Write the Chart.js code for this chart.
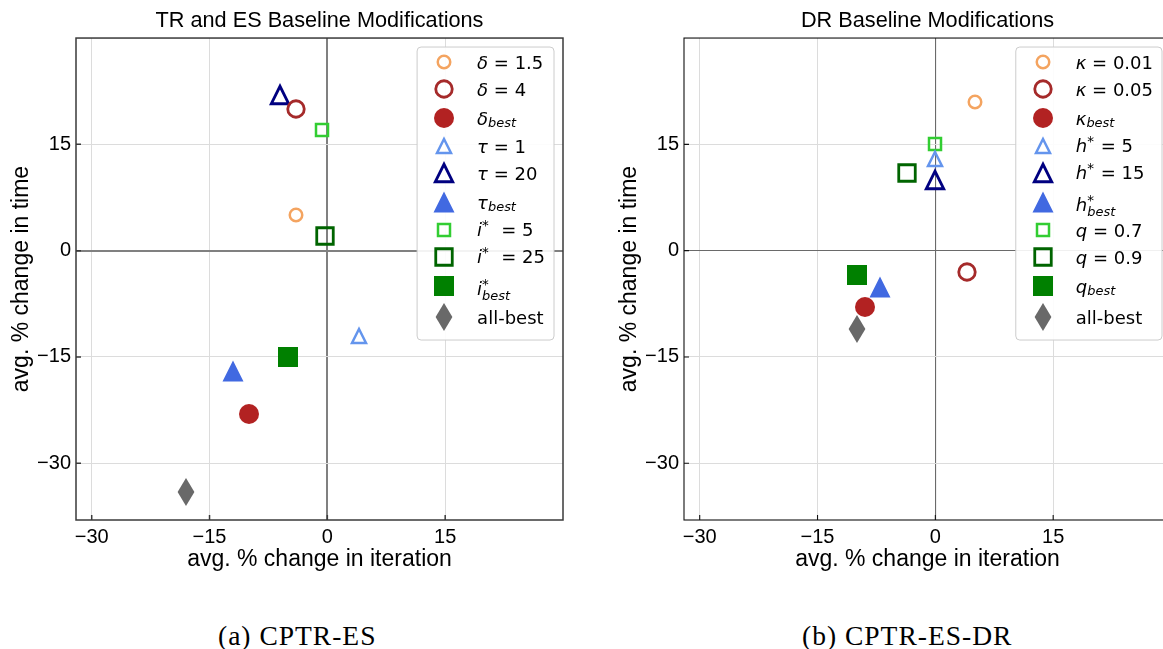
<!DOCTYPE html>
<html>
<head>
<meta charset="utf-8">
<script src="https://cdn.jsdelivr.net/npm/chart.js@4.4.0/dist/chart.umd.min.js"></script>
<style>
  html, body { margin: 0; padding: 0; background: #fff; width: 1163px; height: 649px; overflow: hidden; }
  .panel { position: absolute; top: 0; width: 590px; height: 600px; }
  .caption { position: absolute; top: 622px; font-family: "Liberation Serif", serif; font-size: 27.5px; line-height: 1; color: #000; white-space: nowrap; letter-spacing: 1px; }
</style>
</head>
<body>
<div class="panel" style="left:0"><canvas id="chartA" width="590" height="600"></canvas></div>
<div class="panel" style="left:608px"><canvas id="chartB" width="590" height="600"></canvas></div>
<div class="caption" style="left:218px">(a) CPTR-ES</div>
<div class="caption" style="left:802px">(b) CPTR-ES-DR</div>

<script>
// axes
const tickValues = [-30, -15, 0, 15];
const xLimits = [-32, 30];
const yLimits = [-38, 30];
const xTitle = 'avg. % change in iteration';
const yTitle = 'avg. % change in time';

// panel (a)
const titleA = 'TR and ES Baseline Modifications';
const labelsA = [
  [['δ', 'i'], [' = 1.5', 'n']],
  [['δ', 'i'], [' = 4', 'n']],
  [['δ', 'i'], ['best', 'sub']],
  [['τ', 'i'], [' = 1', 'n']],
  [['τ', 'i'], [' = 20', 'n']],
  [['τ', 'i'], ['best', 'sub']],
  [['i', 'i'], ['*', 'sup'], ['  = 5', 'n']],
  [['i', 'i'], ['*', 'sup'], ['  = 25', 'n']],
  [['i', 'i'], ['*', 'sup0'], ['best', 'sub']],
  [['all-best', 'n']]
];
const xA = [-4, -4, -10, 4, -6, -12, -0.7, -0.3, -5, -18];
const yA = [5, 20, -23, -12, 22, -17, 17, 2, -15, -34];

// panel (b)
const titleB = 'DR Baseline Modifications';
const labelsB = [
  [['κ', 'i'], [' = 0.01', 'n']],
  [['κ', 'i'], [' = 0.05', 'n']],
  [['κ', 'i'], ['best', 'sub']],
  [['h', 'i'], ['*', 'sup'], [' = 5', 'n']],
  [['h', 'i'], ['*', 'sup'], [' = 15', 'n']],
  [['h', 'i'], ['*', 'sup0'], ['best', 'sub']],
  [['q', 'i'], [' = 0.7', 'n']],
  [['q', 'i'], [' = 0.9', 'n']],
  [['q', 'i'], ['best', 'sub']],
  [['all-best', 'n']]
];
const xB = [5, 4, -9, 0, 0, -7, -0.1, -3.6, -10, -10];
const yB = [21, -3, -8, 13, 10, -5.1, 15, 11, -3.5, -11];

// marker look, same order in both panels: shape, size, colour, open, line width
const markerSpecs = [
  ['circle', 12.5, '#f4a460', true, 2.5],
  ['circle', 16.5, '#a52a2a', true, 2.8],
  ['circle', 20, '#b22222', false, 0],
  ['triangle', 14, '#6495ed', true, 2.5],
  ['triangle', 17.5, '#000080', true, 2.8],
  ['triangle', 21, '#4169e1', false, 0],
  ['square', 12, '#32cd32', true, 2.5],
  ['square', 16.5, '#006400', true, 2.8],
  ['square', 20, '#008000', false, 0],
  ['diamond', 28, '#696969', false, 0]
];

function makeMarker([shape, size, color, open, lw]) {
  const w = shape === 'diamond' ? size * 0.6 : size;
  const h = size;
  const c = document.createElement('canvas');
  // even sizes so the image lands on whole pixels
  c.width = 2 * Math.ceil((w + lw + 4) / 2);
  c.height = 2 * Math.ceil((h + lw + 4) / 2);
  const g = c.getContext('2d');
  const cx = c.width / 2, cy = c.height / 2;
  g.beginPath();
  if (shape === 'circle') {
    g.arc(cx, cy, size / 2, 0, Math.PI * 2);
  } else if (shape === 'triangle') {
    g.moveTo(cx, cy - h / 2);
    g.lineTo(cx + w / 2, cy + h / 2);
    g.lineTo(cx - w / 2, cy + h / 2);
    g.closePath();
  } else if (shape === 'square') {
    g.rect(cx - w / 2, cy - h / 2, w, h);
  } else {
    g.moveTo(cx, cy - h / 2);
    g.lineTo(cx + w / 2, cy);
    g.lineTo(cx, cy + h / 2);
    g.lineTo(cx - w / 2, cy);
    g.closePath();
  }
  if (open) {
    g.lineWidth = lw;
    g.strokeStyle = color;
    g.stroke();
  } else {
    g.fillStyle = color;
    g.fill();
  }
  return c;
}
const markers = markerSpecs.map(makeMarker);

const fmt = v => (v < 0 ? '\u2212' + Math.abs(v) : String(v));

// legend text with italic symbols, sub- and superscripts
function drawParts(ctx, parts, x, y, size, draw) {
  let cx = x;
  const hasSupSub = parts.some(p => p[1] === 'sup0');
  for (const [text, kind] of parts) {
    let fs = size, dy = 0, style = '', advance = true;
    if (kind === 'i') style = 'italic ';
    if (kind === 'sub') { style = 'italic '; fs = size * 0.72; dy = hasSupSub ? 4.5 : 2; }
    if (kind === 'sup' || kind === 'sup0') { fs = size * 0.75; dy = -6; advance = kind === 'sup'; }
    ctx.font = style + fs + 'px "DejaVu Sans"';
    if (draw) ctx.fillText(text, cx, y + dy);
    if (advance) cx += ctx.measureText(text).width + (kind === 'sup' ? 1 : 0);
  }
  return cx - x;
}

const crispPoints = {
  id: 'crispPoints',
  beforeDatasetsDraw(chart) { chart.ctx.imageSmoothingEnabled = false; },
  afterDatasetsDraw(chart) { chart.ctx.imageSmoothingEnabled = true; }
};

const insideLegend = {
  id: 'insideLegend',
  afterDraw(chart, args, o) {
    const {ctx, chartArea: a} = chart;
    const sets = chart.data.datasets;
    const size = 18;
    ctx.save();
    let maxW = 0;
    sets.forEach(ds => { maxW = Math.max(maxW, drawParts(ctx, ds.labelParts, 0, 0, size, false)); });
    const heights = sets.map(ds => {
      if (ds.markerShape === 'diamond') return 33;
      return ds.labelParts.some(p => p[1] === 'sub') ? 30 : 27;
    });
    const boxW = o.textX + maxW + 9;
    const boxH = heights.reduce((s, h) => s + h, 0) + 8;
    const left = a.right - o.pad - boxW;
    const top = a.top + o.pad;
    ctx.beginPath();
    ctx.roundRect(left, top, boxW, boxH, 4);
    ctx.fillStyle = 'rgba(255,255,255,0.9)';
    ctx.fill();
    ctx.strokeStyle = '#cccccc';
    ctx.lineWidth = 1;
    ctx.stroke();
    let y = top + 1.5;
    sets.forEach((ds, i) => {
      const cy = y + heights[i] / 2;
      const m = ds.pointStyle;
      ctx.drawImage(m, Math.round(left + o.markX - m.width / 2), Math.round(cy - m.height / 2));
      ctx.fillStyle = '#000';
      ctx.textBaseline = 'alphabetic';
      const parts = ds.labelParts;
      let base = 6.5;
      if (parts.some(p => p[1] === 'sup0')) base = 9.5;
      else if (parts.some(p => p[1] === 'sub')) base = 7.5;
      else if (parts.some(p => p[1] === 'sup')) base = 5.5;
      drawParts(ctx, parts, left + o.textX, cy + base, size, true);
      y += heights[i];
    });
    ctx.restore();
  }
};

const frame = {
  id: 'frame',
  afterDraw(chart, args, o) {
    const {ctx, chartArea: a, scales} = chart;
    ctx.save();
    ctx.strokeStyle = o.color;
    ctx.lineWidth = o.width;
    ctx.strokeRect(a.left, a.top, a.right - a.left, a.bottom - a.top);
    ctx.beginPath();
    scales.x.ticks.forEach(t => {
      const px = scales.x.getPixelForValue(t.value);
      ctx.moveTo(px, a.bottom);
      ctx.lineTo(px, a.bottom - 5);
    });
    scales.y.ticks.forEach(t => {
      const py = scales.y.getPixelForValue(t.value);
      ctx.moveTo(a.left, py);
      ctx.lineTo(a.left + 5, py);
    });
    ctx.stroke();
    ctx.restore();
  }
};

function axis(limits, title, isX, look) {
  const ax = {
    type: 'linear',
    min: limits[0],
    max: limits[1],
    afterBuildTicks: s => { s.ticks = tickValues.map(v => ({value: v})); },
    grid: {
      drawTicks: false,
      color: c => (c.tick && c.tick.value === 0 ? look.zero : '#dcdcdc'),
      lineWidth: c => (c.tick && c.tick.value === 0 ? look.zeroWidth : 1)
    },
    border: {display: false},
    ticks: {
      callback: fmt,
      color: '#000',
      font: {family: 'Liberation Sans', size: 20},
      padding: 5
    },
    title: {
      display: true,
      text: title,
      color: '#000',
      font: {family: 'Liberation Sans', size: 23},
      padding: isX ? {top: 0, bottom: 27} : {top: 8, bottom: 0}
    }
  };
  if (isX) ax.afterFit = s => { s.height = 80; };
  else ax.afterFit = s => { s.width = 76; };
  return ax;
}

function buildChart(id, title, labels, xs, ys, look) {
  return new Chart(document.getElementById(id), {
    type: 'scatter',
    data: {
      datasets: labels.map((parts, i) => ({
        label: parts.map(p => p[0]).join(''),
        labelParts: parts,
        markerShape: markerSpecs[i][0],
        data: [{x: xs[i], y: ys[i]}],
        pointStyle: markers[i],
        pointRadius: 10,
        pointHoverRadius: 10
      }))
    },
    options: {
      responsive: false,
      animation: false,
      events: [],
      layout: {padding: {left: 0, right: 27, top: 0, bottom: 0}},
      plugins: {
        legend: {display: false},
        tooltip: {enabled: false},
        title: {
          display: true,
          text: title,
          fullSize: false,
          color: '#000',
          font: {family: 'Liberation Sans', size: 21.7, weight: 'normal'},
          padding: {top: 8, bottom: 4}
        },
        insideLegend: {pad: 9, markX: 27, textX: 60},
        frame: {color: look.frame, width: look.frameWidth}
      },
      scales: {
        x: axis(xLimits, xTitle, true, look),
        y: axis(yLimits, yTitle, false, look)
      }
    },
    plugins: [crispPoints, insideLegend, frame]
  });
}

buildChart('chartA', titleA, labelsA, xA, yA,
  {zero: '#808080', zeroWidth: 2, frame: '#3a3a3a', frameWidth: 1.5});
buildChart('chartB', titleB, labelsB, xB, yB,
  {zero: '#6a6a6a', zeroWidth: 1.1, frame: '#111111', frameWidth: 1.1});
</script>
</body>
</html>
